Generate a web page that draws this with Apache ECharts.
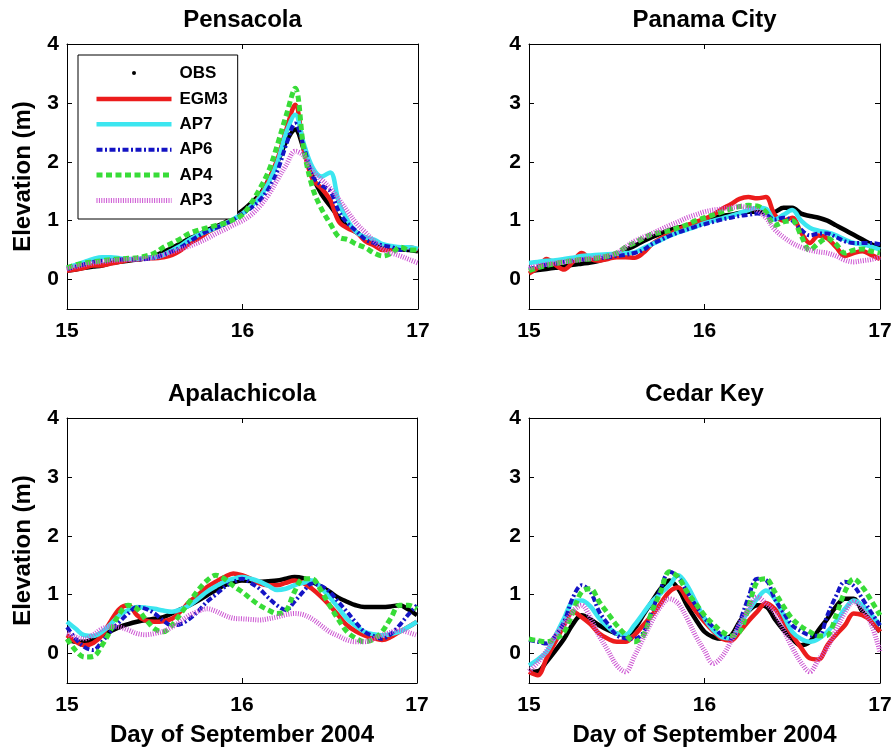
<!DOCTYPE html>
<html><head><meta charset="utf-8">
<script src="https://cdn.jsdelivr.net/npm/echarts@6/dist/echarts.min.js"></script>
<style>html,body{margin:0;padding:0;background:#fff}#c{width:894px;height:751px}</style>
</head><body><div id="c"></div>
<script>
// ---------- DATA ----------
const days = [15.00,15.05,15.10,15.15,15.20,15.25,15.30,15.35,15.40,15.45,15.50,15.55,15.60,15.65,15.70,15.75,15.80,15.85,15.90,15.95,16.00,16.05,16.10,16.15,16.20,16.25,16.30,16.35,16.40,16.45,16.50,16.55,16.60,16.65,16.70,16.75,16.80,16.85,16.90,16.95,17.00];
const seriesNames = ['OBS','EGM3','AP7','AP6','AP4','AP3'];
const stations = ['Pensacola','Panama City','Apalachicola','Cedar Key'];
const xTicks = [15,16,17];
const yTicks = [0,1,2,3,4];
const xAxisTitle = 'Day of September 2004';
const yAxisTitle = 'Elevation (m)';

// Pensacola
const pensacolaOBS  = [.15,.17,.2,.22,.24,.28,.3,.32,.34,.36,.4,.47,.54,.62,.7,.76,.84,.9,.97,1.07,1.17,1.3,1.45,1.7,2.0,2.35,2.55,2.2,1.75,1.45,1.25,1.05,.9,.8,.7,.62,.58,.55,.52,.5,.48];
const pensacolaEGM3 = [.15,.17,.2,.24,.24,.27,.3,.33,.34,.36,.36,.38,.42,.5,.62,.7,.8,.88,.95,1.05,1.12,1.25,1.42,1.7,2.05,2.55,2.97,2.2,1.7,1.55,1.35,.98,.87,.8,.65,.58,.5,.52,.55,.55,.5];
const pensacolaAP7  = [.2,.25,.3,.35,.38,.38,.36,.35,.35,.37,.38,.42,.5,.58,.68,.76,.82,.88,.95,1.03,1.12,1.25,1.4,1.65,2.0,2.5,2.8,2.3,1.9,1.75,1.82,1.3,1.0,.8,.72,.68,.6,.57,.55,.55,.52];
const pensacolaAP6  = [.18,.22,.26,.3,.32,.33,.34,.34,.34,.35,.37,.42,.48,.55,.65,.74,.82,.88,.94,1.02,1.12,1.22,1.35,1.55,1.85,2.3,2.65,2.25,1.75,1.6,1.5,1.15,.95,.82,.68,.62,.58,.55,.5,.5,.5];
const pensacolaAP4  = [.2,.25,.28,.3,.32,.34,.35,.36,.37,.4,.45,.55,.62,.7,.79,.84,.88,.92,.96,1.02,1.1,1.3,1.55,1.85,2.3,2.8,3.25,2.2,1.55,1.2,.95,.72,.68,.6,.54,.45,.4,.45,.55,.5,.5];
const pensacolaAP3  = [.18,.22,.25,.28,.3,.32,.33,.34,.35,.36,.38,.42,.47,.52,.57,.63,.7,.78,.85,.93,1.0,1.1,1.25,1.45,1.7,1.95,2.18,2.1,1.84,1.7,1.55,1.36,1.15,.95,.8,.65,.52,.45,.4,.34,.28];

// Panama City
const panamaOBS  = [.14,.16,.18,.2,.22,.25,.27,.29,.32,.36,.42,.5,.57,.65,.72,.78,.84,.88,.92,.96,1.0,1.04,1.08,1.1,1.13,1.15,1.15,1.14,1.15,1.22,1.22,1.12,1.08,1.05,1.0,.92,.84,.76,.68,.6,.54];
const panamaEGM3 = [.1,.2,.35,.25,.17,.3,.45,.35,.32,.35,.38,.38,.37,.45,.6,.7,.77,.85,.92,.98,1.03,1.1,1.2,1.28,1.37,1.4,1.38,1.4,1.1,1.0,1.05,.8,.62,.75,.7,.55,.4,.45,.48,.42,.35];
const panamaAP7  = [.28,.3,.32,.33,.35,.37,.4,.41,.42,.43,.44,.45,.46,.53,.6,.67,.74,.8,.85,.9,.96,1.0,1.04,1.08,1.13,1.18,1.22,1.2,1.02,1.1,1.18,1.0,.88,.83,.8,.75,.68,.62,.6,.56,.51];
const panamaAP6  = [.18,.22,.25,.27,.3,.32,.34,.35,.36,.38,.4,.42,.45,.5,.6,.67,.74,.8,.85,.9,.94,.98,1.02,1.05,1.08,1.1,1.12,1.1,1.02,1.05,1.0,.85,.75,.78,.78,.72,.65,.62,.62,.62,.6];
const panamaAP4  = [.15,.2,.24,.27,.3,.32,.34,.35,.37,.4,.45,.55,.62,.7,.77,.8,.83,.88,.93,1.0,1.05,1.1,1.15,1.2,1.24,1.26,1.25,1.15,.92,.98,1.0,.75,.5,.62,.7,.6,.45,.5,.52,.48,.45];
const panamaAP3  = [.2,.23,.26,.28,.3,.32,.34,.36,.38,.4,.45,.55,.65,.72,.78,.85,.92,.98,1.05,1.1,1.15,1.18,1.2,1.22,1.24,1.22,1.18,1.05,.85,.72,.62,.55,.5,.47,.45,.4,.33,.3,.32,.34,.38];

// Apalachicola
const apalachicolaOBS  = [.25,.2,.2,.24,.31,.38,.45,.5,.54,.57,.59,.62,.68,.75,.82,.9,.99,1.08,1.16,1.21,1.24,1.23,1.22,1.23,1.24,1.27,1.3,1.28,1.22,1.14,1.05,.95,.88,.82,.79,.79,.79,.8,.82,.75,.65];
const apalachicolaEGM3 = [.31,.2,.14,.18,.31,.55,.76,.82,.65,.56,.54,.55,.59,.72,.88,1.0,1.13,1.22,1.3,1.36,1.33,1.27,1.19,1.16,1.16,1.2,1.24,1.2,1.1,.97,.82,.65,.48,.38,.31,.26,.23,.28,.37,.45,.54];
const apalachicolaAP7  = [.54,.42,.31,.3,.37,.5,.65,.74,.79,.78,.76,.73,.71,.75,.82,.93,1.05,1.14,1.22,1.27,1.3,1.27,1.22,1.15,1.08,1.1,1.16,1.2,1.24,1.12,.96,.78,.59,.47,.37,.33,.31,.33,.37,.45,.54];
const apalachicolaAP6  = [.45,.25,.11,.06,.2,.38,.54,.68,.79,.76,.68,.56,.48,.5,.59,.72,.88,1.0,1.13,1.21,1.27,1.2,1.1,.95,.82,.74,.88,1.05,1.19,1.15,1.05,.88,.71,.53,.37,.3,.25,.33,.48,.66,.82];
const apalachicolaAP4  = [.25,.05,-.06,-.05,.14,.4,.68,.82,.76,.58,.42,.37,.48,.68,.88,1.08,1.24,1.33,1.27,1.15,1.05,.93,.82,.74,.68,.72,1.05,1.27,1.27,1.08,.82,.58,.37,.26,.2,.24,.37,.6,.82,.82,.76];
const apalachicolaAP3  = [.34,.28,.25,.32,.42,.46,.45,.4,.34,.32,.34,.38,.45,.55,.65,.72,.76,.72,.65,.6,.59,.58,.57,.59,.62,.66,.68,.66,.59,.48,.37,.3,.23,.2,.2,.25,.31,.36,.4,.36,.31];

// Cedar Key
const cedarOBS  = [-.31,-.3,-.14,.05,.25,.5,.65,.58,.48,.4,.34,.31,.42,.65,.88,1.1,1.24,1.1,.82,.58,.37,.28,.25,.3,.54,.72,.82,.8,.59,.4,.25,.14,.2,.4,.59,.8,.93,.93,.71,.55,.37];
const cedarEGM3 = [-.31,-.37,-.08,.2,.48,.71,.62,.5,.34,.25,.2,.2,.31,.48,.65,.85,1.05,1.12,.93,.72,.54,.38,.25,.22,.37,.55,.71,.86,.76,.55,.31,.1,-.08,-.1,.14,.32,.48,.68,.65,.55,.37];
const cedarAP7  = [-.2,-.1,.03,.3,.6,.88,.9,.8,.6,.45,.34,.32,.48,.68,.88,1.02,1.16,1.33,1.16,.88,.6,.4,.28,.26,.48,.72,.93,1.07,.93,.65,.37,.25,.2,.25,.37,.55,.76,.9,.82,.66,.48];
const cedarAP6  = [.23,.2,.17,.3,.54,.95,1.16,1.05,.71,.5,.31,.26,.25,.35,.71,1.1,1.39,1.3,1.05,.82,.6,.45,.31,.25,.54,.95,1.27,1.25,.93,.7,.48,.38,.31,.3,.65,.98,1.22,1.15,.93,.7,.48];
const cedarAP4  = [.25,.22,.2,.25,.37,.7,1.05,1.1,.88,.68,.48,.32,.2,.3,.71,1.05,1.39,1.3,1.05,.85,.65,.5,.37,.3,.37,.78,1.22,1.27,1.05,.8,.59,.46,.37,.3,.31,.65,1.05,1.27,1.13,.9,.65];
const cedarAP3  = [-.3,-.15,.05,.3,.5,.72,.82,.6,.3,.05,-.2,-.31,-.05,.25,.55,.8,.93,.85,.6,.3,.05,-.17,-.05,.2,.5,.75,.96,.85,.7,.4,.1,-.15,-.31,-.1,.1,.4,.7,.88,.75,.5,.03];

const panelValues = [
  [pensacolaOBS, pensacolaEGM3, pensacolaAP7, pensacolaAP6, pensacolaAP4, pensacolaAP3],
  [panamaOBS, panamaEGM3, panamaAP7, panamaAP6, panamaAP4, panamaAP3],
  [apalachicolaOBS, apalachicolaEGM3, apalachicolaAP7, apalachicolaAP6, apalachicolaAP4, apalachicolaAP3],
  [cedarOBS, cedarEGM3, cedarAP7, cedarAP6, cedarAP4, cedarAP3]
];

// ---------- STYLE / LAYOUT ----------
const FONT = 'Liberation Sans';
const styles = {
  OBS:  {color:'#000000', width:4.5, type:'solid'},
  EGM3: {color:'#ec1c1c', width:4.5, type:'solid'},
  AP7:  {color:'#3ce6f0', width:4.5, type:'solid'},
  AP6:  {color:'#1414c4', width:4,   type:[6,2.5,2,2.5]},
  AP4:  {color:'#38dc38', width:5,   type:[6,3.5]},
  AP3:  {color:'#cc55d2', width:5,   type:[1,1.4]}
};
const grids = [
  {left:67,  top:44,  width:351, height:265},
  {left:529, top:44,  width:351, height:265},
  {left:67,  top:418, width:350, height:265},
  {left:529, top:418, width:351, height:265}
];

const option = {
  animation:false,
  backgroundColor:'#ffffff',
  title: stations.map((s,i)=>({
    text:s, left:grids[i].left+grids[i].width/2, top:grids[i].top-36, textAlign:'center', padding:0,
    textStyle:{fontFamily:FONT, fontWeight:'bold', fontSize:24, color:'#000'}
  })),
  grid: grids.map(g=>Object.assign({containLabel:false, outerBoundsMode:'none', show:false}, g)),
  xAxis: [],
  yAxis: [],
  legend: {
    orient:'vertical', left:78, top:55, padding:[9,10,10,16],
    itemWidth:75, itemHeight:18, itemGap:8.4, selectedMode:false,
    backgroundColor:'#ffffff', borderColor:'#000', borderWidth:1, borderRadius:0,
    textStyle:{fontFamily:FONT, fontWeight:'bold', fontSize:17, color:'#000', padding:[0,0,0,3]},
    data: seriesNames.map(n => n==='OBS'
      ? {name:n, icon:'path://M0 0M75 18M35.5 9a2 2 0 1 0 4 0a2 2 0 1 0 -4 0z', itemStyle:{color:'#000', borderWidth:0}}
      : {name:n, itemStyle:{opacity:0}, lineStyle:{width:styles[n].width}})
  },
  series: []
};

stations.forEach((s,i)=>{
  const bottomRow = i>=2, leftCol = (i%2===0);
  const common = {gridIndex:i, min:15, max:17, interval:1,
    axisLine:{show:true, onZero:false, lineStyle:{color:'#000', width:1}},
    axisTick:{show:true, inside:true, length:5, lineStyle:{color:'#000'}},
    splitLine:{show:false}};
  option.xAxis.push(Object.assign({}, common, {type:'value', position:'bottom',
    axisLabel:{show:true, margin:12, fontFamily:FONT, fontWeight:'bold', fontSize:21, color:'#000'},
    name: bottomRow ? xAxisTitle : '', nameLocation:'middle', nameGap:40,
    nameTextStyle:{fontFamily:FONT, fontWeight:'bold', fontSize:24, color:'#000'}}));
  option.xAxis.push(Object.assign({}, common, {type:'value', position:'top', axisLabel:{show:false}}));
  const ycommon = {gridIndex:i, type:'value', min:-0.5, max:4,
    axisLine:{show:true, onZero:false, lineStyle:{color:'#000', width:1}},
    axisTick:{show:true, inside:true, length:5, customValues:yTicks, lineStyle:{color:'#000'}},
    splitLine:{show:false}};
  option.yAxis.push(Object.assign({}, ycommon, {position:'left',
    axisLabel:{show:true, customValues:yTicks, margin:8, fontFamily:FONT, fontWeight:'bold', fontSize:21, color:'#000'},
    name: leftCol ? yAxisTitle : '', nameLocation:'middle', nameGap:32, nameRotate:90,
    nameTextStyle:{fontFamily:FONT, fontWeight:'bold', fontSize:24, color:'#000'}}));
  option.yAxis.push(Object.assign({}, ycommon, {position:'right', axisLabel:{show:false}}));

  seriesNames.forEach((n,k)=>{
    const st = styles[n];
    option.series.push({
      name:n, type:'line', xAxisIndex:2*i, yAxisIndex:2*i,
      data: days.map((d,j)=>[d, panelValues[i][k][j]]),
      symbol:'none', smooth:0.35, clip:true, z:2+k,
      lineStyle:{color:st.color, width:st.width, type:st.type, cap:'butt'},
      itemStyle:{color:st.color},
      emphasis:{disabled:true}
    });
  });
});

const chart = echarts.init(document.getElementById('c'), null, {renderer:'canvas'});
chart.setOption(option);
</script>
</body></html>
